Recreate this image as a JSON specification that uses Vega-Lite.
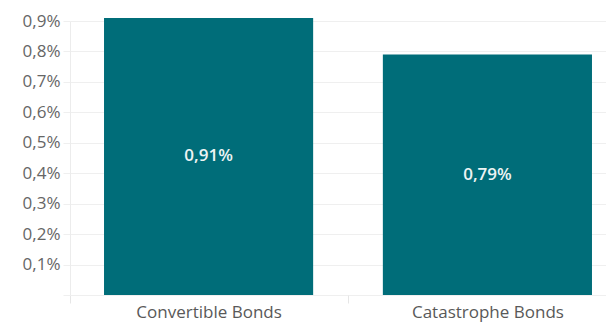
{
  "$schema": "https://vega.github.io/schema/vega-lite/v6.json",
  "autosize": "none",
  "width": 536,
  "height": 274,
  "padding": {"left": 70, "top": 21, "right": 0, "bottom": 28},
  "background": "white",
  "config": {
    "view": {"stroke": null}, "font": "Open Sans",
    "axisY": {
      "title": null, "values": [0, 0.1, 0.2, 0.3, 0.4, 0.5, 0.6, 0.7, 0.8, 0.9],
      "labelExpr": "datum.value == 0 ? '' : replace(format(datum.value, '.1f'), '.', ',') + '%'",
      "labelOverlap": false, "labelBound": false,
      "labelFontSize": 17, "labelColor": "#666666", "labelFont": "Open Sans",
      "grid": true, "gridColor": "#efefef", "ticks": true, "tickSize": 7,
      "tickColor": "#efefef", "domain": true, "domainColor": "#ececec",
      "labelPadding": 3
    }
  },
  "data": {"values": [
    {"category": "Convertible Bonds", "value": 0.91, "label": "0,91%"},
    {"category": "Catastrophe Bonds", "value": 0.79, "label": "0,79%"}
  ]},
  "transform": [{"calculate": "datum.value / 2", "as": "mid"}],
  "encoding": {
    "x": {
      "field": "category", "type": "nominal", "sort": null,
      "scale": {"range": [0, 556], "paddingInner": 0.25, "paddingOuter": 0.122},
      "axis": {
        "title": null, "labelAngle": 0, "labelFontSize": 17, "labelColor": "#595959",
        "labelFont": "Open Sans", "domain": false, "ticks": true,
        "tickOffset": -139, "labelOffset": 139,
        "tickColor": "#e6e6e6", "tickSize": 8, "labelPadding": 1, "grid": false
      }
    }
  },
  "layer": [
    {
      "mark": {"type": "bar", "color": "#006d79", "clip": false},
      "encoding": {
        "y": {
          "field": "value", "type": "quantitative",
          "scale": {"domain": [0, 0.9], "nice": false, "clamp": false},
          "axis": {"values": [0, 0.1, 0.2, 0.3, 0.4, 0.5, 0.6, 0.7, 0.8, 0.9]}
        }
      }
    },
    {
      "mark": {"type": "text", "color": "#eef4f4", "fontSize": 17, "fontWeight": 600, "font": "Open Sans"},
      "encoding": {
        "y": {"field": "mid", "type": "quantitative",
          "axis": {"values": [0, 0.1, 0.2, 0.3, 0.4, 0.5, 0.6, 0.7, 0.8, 0.9]}},
        "text": {"field": "label", "type": "nominal"}
      }
    }
  ]
}
